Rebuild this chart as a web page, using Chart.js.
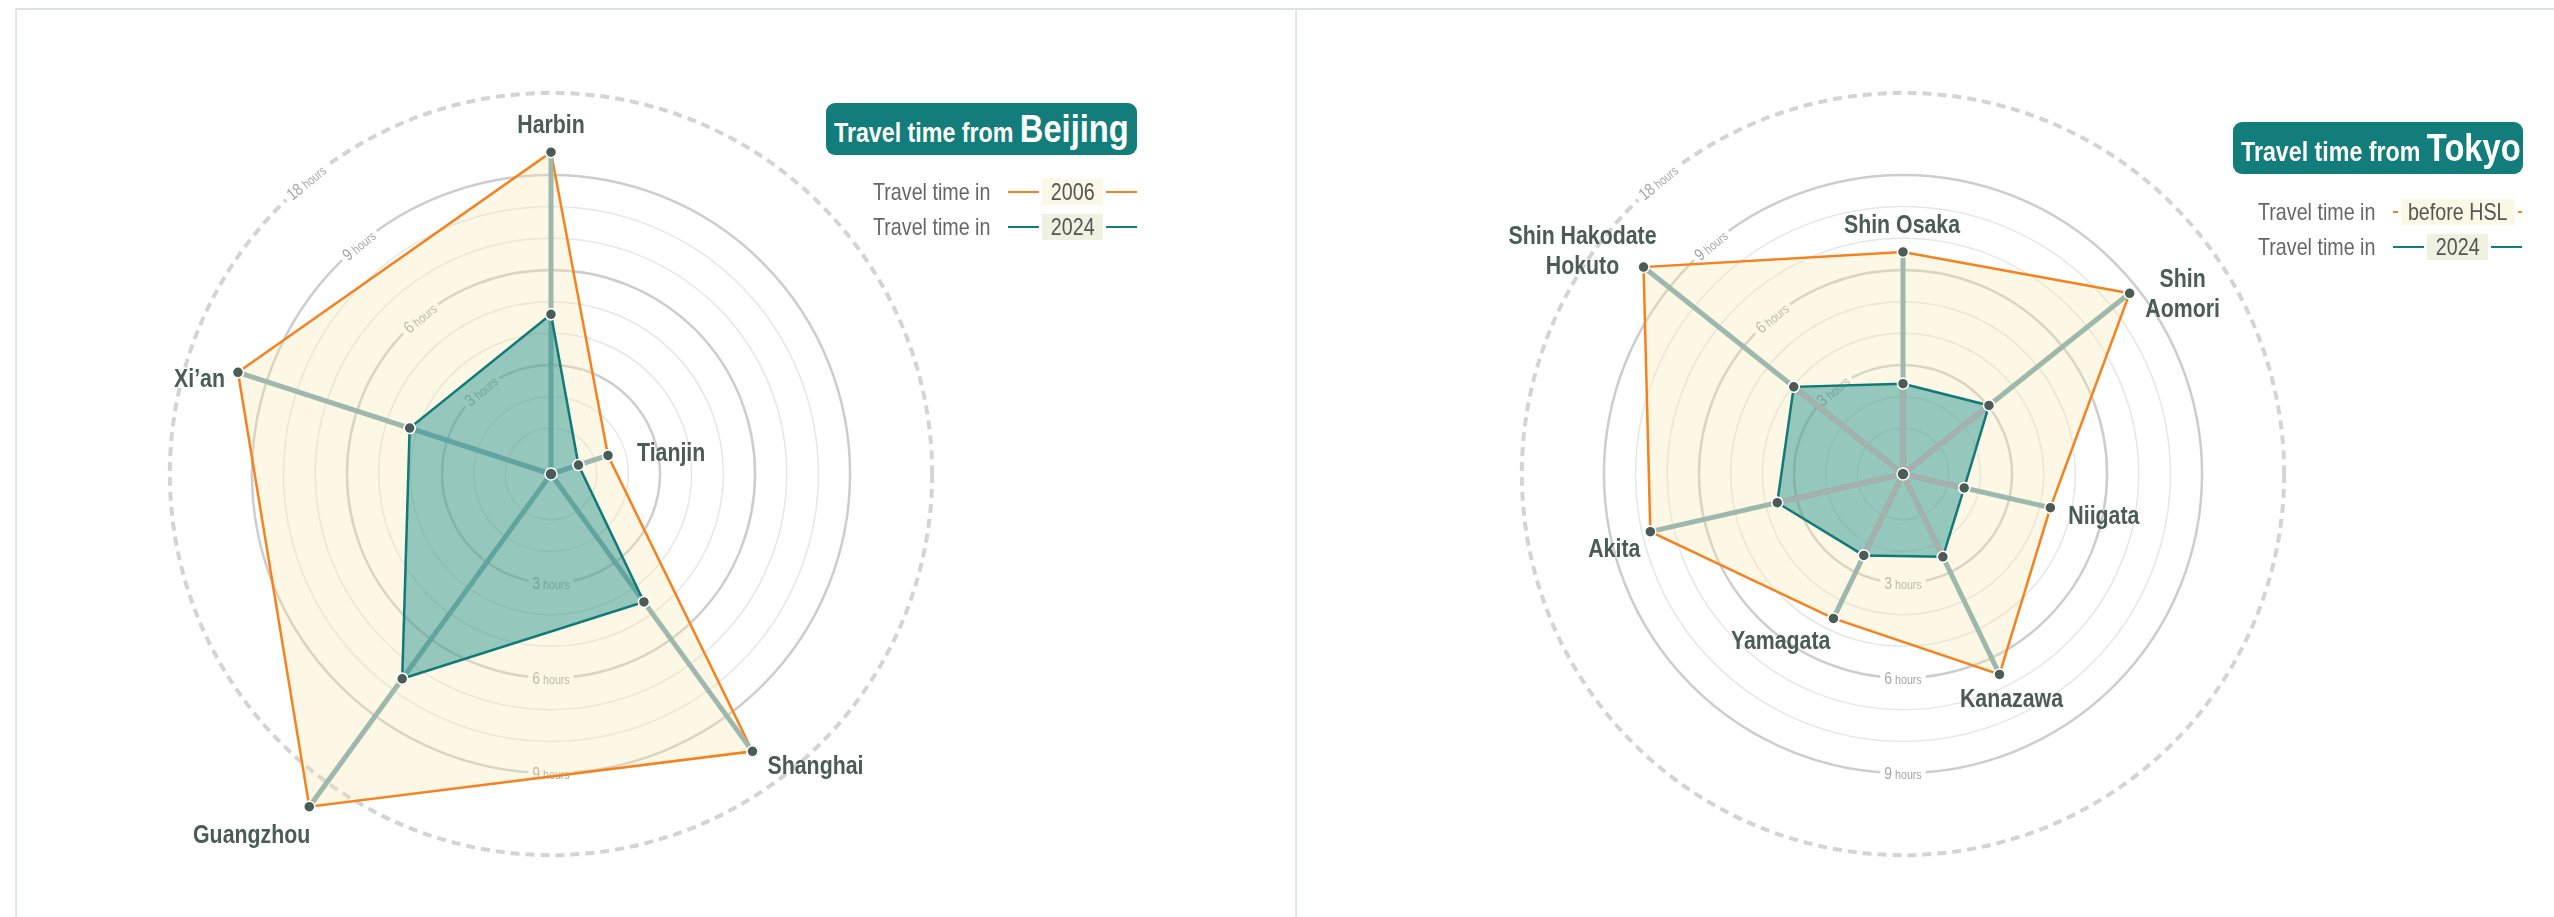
<!DOCTYPE html>
<html>
<head>
<meta charset="utf-8">
<title>Travel time radar</title>
<script src="https://cdn.jsdelivr.net/npm/chart.js@4.4.1/dist/chart.umd.min.js"></script>
<style>
  body { margin: 0; background: #fff; width: 2554px; height: 917px; overflow: hidden; position: relative;
         font-family: "Liberation Sans", Arial, sans-serif; }
  .frame-top { position: absolute; left: 15px; top: 8px; width: 2539px; height: 2px; background: #d7e5e2; }
  .frame-left, .divider { position: absolute; top: 8px; width: 2px; height: 909px; background: #dfe9e7; }
  .frame-left { left: 15px; }
  .divider { left: 1295px; }
  canvas { position: absolute; top: 0; }
  /* Liberation Sans squeezed to look like a narrow face */
  .n { display: inline-block; transform: scaleX(0.82); transform-origin: 0 50%; white-space: nowrap; }
  .c { transform-origin: 50% 50%; }
  .title { position: absolute; height: 52px; box-sizing: border-box; padding-left: 8px;
           background: #127d7a; border-radius: 9px; color: #fff; font-weight: bold; font-size: 27px;
           display: flex; align-items: center; white-space: nowrap; }
  .title .n { transform: scaleX(0.86); }
  .title b { font-size: 38px; }
  .legend { position: absolute; width: 264px; }
  .row { display: flex; align-items: center; height: 26px; margin-bottom: 9px; font-size: 24px; color: #666; white-space: nowrap; }
  .row .lbl { width: 135px; flex: none; }
  .row .ln { flex: 1; height: 2px; }
  .row .yr { flex: none; height: 26px; display: flex; justify-content: center; align-items: center; margin: 0 3px; color: #555; }
</style>
</head>
<body>
<div class="frame-top"></div>
<div class="frame-left"></div>
<div class="divider"></div>

<canvas id="beijingChart" width="1295" height="917" style="left:0"></canvas>
<canvas id="tokyoChart" width="1257" height="917" style="left:1297px"></canvas>

<div class="title" style="left:826px; top:103px; width:311px"><span class="n">Travel time from <b>Beijing</b></span></div>
<div class="legend" style="left:873px; top:179px">
  <div class="row"><span class="lbl"><span class="n">Travel time in</span></span><span class="ln" style="background:#f5821f"></span><span class="yr" style="background:#fbf8e6; width:61px"><span class="n c">2006</span></span><span class="ln" style="background:#f5821f"></span></div>
  <div class="row"><span class="lbl"><span class="n">Travel time in</span></span><span class="ln" style="background:#127d7a"></span><span class="yr" style="background:#eff1e1; width:61px"><span class="n c">2024</span></span><span class="ln" style="background:#127d7a"></span></div>
</div>

<div class="title" style="left:2233px; top:122px; width:290px"><span class="n">Travel time from <b>Tokyo</b></span></div>
<div class="legend" style="left:2258px; top:199px">
  <div class="row"><span class="lbl"><span class="n">Travel time in</span></span><span class="ln" style="background:#f5821f"></span><span class="yr" style="background:#fbf8e6; width:114px"><span class="n c">before HSL</span></span><span class="ln" style="background:#f5821f"></span></div>
  <div class="row"><span class="lbl"><span class="n">Travel time in</span></span><span class="ln" style="background:#127d7a"></span><span class="yr" style="background:#eff1e1; width:61px"><span class="n c">2024</span></span><span class="ln" style="background:#127d7a"></span></div>
</div>

<script>
// travel times in hours
const beijingCities = ['Harbin', 'Tianjin', 'Shanghai', 'Guangzhou', 'Xi’an'];
const beijing2006 = [11.5, 1.45, 13.8, 21.3, 12.3];
const beijing2024 = [4.6, 0.47, 4.55, 7.55, 4.25];

const tokyoCities = ['Shin Osaka', ['Shin', 'Aomori'], 'Niigata', 'Kanazawa', 'Yamagata', 'Akita', ['Shin Hakodate', 'Hokuto']];
const tokyoBeforeHSL = [6.57, 8.71, 4.33, 6.58, 4.62, 7.74, 12.6];
const tokyo2024 = [2.41, 3.03, 1.54, 2.46, 2.41, 3.63, 3.97];

// rings of the radial axis, and which of them carry a label
const ringHours = [1, 2, 3, 4, 5, 6, 7, 8, 9, 18];
const majorRings = [3, 6, 9];
const bottomTickHours = [3, 6, 9];
const diagonalTickHours = [3, 6, 9, 18];

// axis is linear up to 9 hours, squeezed after that
const BREAK = 9, SQUEEZE = 0.288;
const toAxis = h => h <= BREAK ? h : BREAK + (h - BREAK) * SQUEEZE;

const FONT = '"Liberation Sans", Arial, sans-serif';
const NARROW = 0.82;
const DOT = '#4b5c57';

// where each city name sits relative to its outer point
const beijingPlacement = [
  { dx: 0, dy: -26, align: 'center' },
  { dx: 29, dy: -2, align: 'left' },
  { dx: 15, dy: 15, align: 'left' },
  { dx: 1, dy: 29, align: 'right' },
  { dx: -13, dy: 8, align: 'right' }
];
const tokyoPlacement = [
  { dx: -1, dy: -26, align: 'center' },
  { dx: 53, dy: -13, align: 'center' },
  { dx: 18, dy: 9, align: 'left' },
  { dx: 12, dy: 25, align: 'center' },
  { dx: -3, dy: 23, align: 'right' },
  { dx: -10, dy: 18, align: 'right' },
  { dx: -61, dy: -30, align: 'center' }
];

function narrowText(ctx, text, x, y) {
  ctx.save();
  ctx.translate(x, y);
  ctx.scale(NARROW, 1);
  ctx.fillText(text, 0, 0);
  ctx.restore();
}

const radarDecor = {
  id: 'radarDecor',
  beforeDatasetsDraw(chart) {
    const s = chart.scales.r, ctx = chart.ctx;
    const drawTick = (h, theta) => {
      const r = s.getDistanceFromCenterForValue(toAxis(h));
      const x = s.xCenter + r * Math.sin(theta), y = s.yCenter - r * Math.cos(theta);
      const num = String(h), unit = ' hours';
      ctx.save();
      ctx.translate(x, y);
      ctx.rotate(theta === Math.PI ? 0 : theta);
      ctx.font = '17px ' + FONT;
      const w1 = ctx.measureText(num).width * NARROW;
      ctx.font = '13px ' + FONT;
      const w2 = ctx.measureText(unit).width * NARROW;
      const w = w1 + w2;
      ctx.fillStyle = '#fff';
      ctx.fillRect(-w / 2 - 4, -7, w + 8, 14);
      ctx.fillStyle = '#a6a6a6';
      ctx.textAlign = 'left';
      ctx.textBaseline = 'alphabetic';
      ctx.font = '17px ' + FONT;
      narrowText(ctx, num, -w / 2, 6);
      ctx.font = '13px ' + FONT;
      narrowText(ctx, unit, -w / 2 + w1, 6);
      ctx.restore();
    };
    bottomTickHours.forEach(h => drawTick(h, Math.PI));
    diagonalTickHours.forEach(h => drawTick(h, -40 * Math.PI / 180));
  },
  afterDatasetDraw(chart, args, opts) {
    const s = chart.scales.r, ctx = chart.ctx;
    const spokes = (pts, color) => {
      ctx.save();
      ctx.strokeStyle = color;
      ctx.lineWidth = 5;
      pts.forEach(p => {
        ctx.beginPath();
        ctx.moveTo(s.xCenter, s.yCenter);
        ctx.lineTo(p.x, p.y);
        ctx.stroke();
      });
      ctx.restore();
    };
    if (args.index === 0) spokes(chart.getDatasetMeta(0).data, '#9fb8ad');
    if (args.index === 1 && opts.innerSpokes) spokes(chart.getDatasetMeta(1).data, '#a8b0ad');
  },
  afterDatasetsDraw(chart, args, opts) {
    const s = chart.scales.r, ctx = chart.ctx;
    // points again, so they sit above the spokes
    chart.data.datasets.forEach((d, i) => {
      chart.getDatasetMeta(i).data.forEach(p => p.draw(ctx, chart.chartArea));
    });
    ctx.save();
    ctx.beginPath();
    ctx.arc(s.xCenter, s.yCenter, 6, 0, Math.PI * 2);
    ctx.fillStyle = DOT;
    ctx.fill();
    ctx.lineWidth = 1.5;
    ctx.strokeStyle = '#fff';
    ctx.stroke();

    // city names beside the outer point
    const outer = chart.getDatasetMeta(0).data;
    ctx.font = 'bold 26px ' + FONT;
    ctx.fillStyle = DOT;
    ctx.textBaseline = 'middle';
    chart.data.labels.forEach((lab, i) => {
      const p = outer[i], pos = opts.placement[i];
      const lines = Array.isArray(lab) ? lab : [lab];
      ctx.textAlign = pos.align;
      lines.forEach((t, j) => narrowText(ctx, t, p.x + pos.dx, p.y + pos.dy + j * 30));
    });
    ctx.restore();
  }
};

function makeChart(id, cities, oldVals, newVals, oldLabel, padding, placement, innerSpokes) {
  const pointStyle = {
    pointRadius: 5.5, pointBackgroundColor: DOT, pointBorderColor: '#fff', pointBorderWidth: 1.5
  };
  return new Chart(document.getElementById(id), {
    type: 'radar',
    data: {
      labels: cities,
      datasets: [
        { label: oldLabel, data: oldVals.map(toAxis), order: 2, fill: 'start',
          borderColor: '#f5821f', backgroundColor: 'rgba(249,230,170,0.3)', borderWidth: 2.5, ...pointStyle },
        { label: '2024', data: newVals.map(toAxis), order: 1, fill: 'start',
          borderColor: '#117a76', backgroundColor: 'rgba(25,140,140,0.45)', borderWidth: 2.5, ...pointStyle }
      ]
    },
    options: {
      responsive: false,
      animation: false,
      events: [],
      layout: { padding },
      elements: { line: { tension: 0 } },
      plugins: {
        legend: { display: false },
        tooltip: { enabled: false },
        radarDecor: { placement, innerSpokes }
      },
      scales: {
        r: {
          min: -0.442,
          max: 13.45,
          afterBuildTicks: sc => { sc.ticks = ringHours.map(h => ({ value: toAxis(h) })); },
          ticks: { display: false },
          pointLabels: { display: false },
          angleLines: { display: false },
          grid: {
            circular: true,
            color: c => {
              const h = ringHours[c.index];
              if (h === 18) return '#d4d4d4';
              return majorRings.includes(h) ? '#cdcdcd' : '#e6e6e6';
            },
            lineWidth: c => {
              const h = ringHours[c.index];
              if (h === 18) return 4;
              return majorRings.includes(h) ? 2.5 : 1.5;
            }
          },
          border: { dash: c => ringHours[c.index] === 18 ? [9, 6] : [] }
        }
      }
    },
    plugins: [radarDecor]
  });
}

makeChart('beijingChart', beijingCities, beijing2006, beijing2024, '2006',
  { left: 111, right: 304, top: 34, bottom: 3 }, beijingPlacement, false);
makeChart('tokyoChart', tokyoCities, tokyoBeforeHSL, tokyo2024, 'before HSL',
  { left: 166, right: 211, top: 34, bottom: 3 }, tokyoPlacement, true);
</script>
</body>
</html>
